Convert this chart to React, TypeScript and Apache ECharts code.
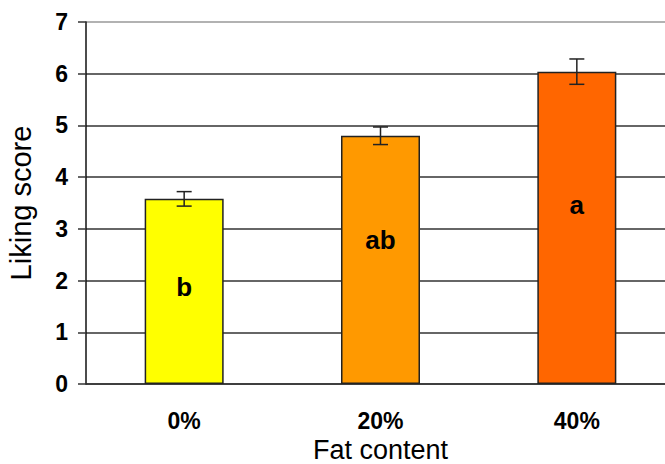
import React, { useEffect, useRef } from "react";
import * as echarts from "echarts";

const categories = ["0%", "20%", "40%"];
const means = [3.58, 4.8, 6.04];
const errors = [0.14, 0.17, 0.245];
const letters = ["b", "ab", "a"];
const letterLevels = [1.88, 2.79, 3.46];
const barColors = ["#FFFF00", "#FF9900", "#FF6600"];
const yTicks = [0, 1, 2, 3, 4, 5, 6, 7];

export default function App() {
  const ref = useRef<HTMLDivElement>(null);
  useEffect(() => {
    if (!ref.current) return;
    const chart = echarts.init(ref.current, null, { renderer: "svg" });
    const font = "'Liberation Sans', Arial, sans-serif";
    const errData = categories.map((_, i) => [i, means[i] - errors[i], means[i] + errors[i]]);
    const letterData = categories.map((_, i) => [i, letterLevels[i]]);
    chart.setOption({
      animation: false,
      grid: { left: 86, right: -10, top: 22, bottom: 80, outerBoundsMode: "none", containLabel: false },
      xAxis: {
        type: "category",
        data: categories,
        name: "Fat content",
        nameLocation: "middle",
        nameGap: 52,
        nameMoveOverlap: false,
        nameTextStyle: { fontFamily: font, fontSize: 27, color: "#000", lineHeight: 28 },
        axisLine: { lineStyle: { color: "#333", width: 1.5 } },
        axisTick: { show: false },
        axisLabel: { fontFamily: font, fontSize: 23, fontWeight: "bold", color: "#000", margin: 25 },
      },
      yAxis: {
        type: "value",
        min: yTicks[0],
        max: yTicks[yTicks.length - 1],
        interval: 1,
        name: "Liking score",
        nameLocation: "middle",
        nameGap: 51,
        nameMoveOverlap: false,
        nameTextStyle: { fontFamily: font, fontSize: 29, color: "#000" },
        axisLine: { show: true, lineStyle: { color: "#111", width: 1.5 } },
        axisTick: { show: true, length: 8, lineStyle: { color: "#333", width: 1.5 } },
        axisLabel: { fontFamily: font, fontSize: 23, fontWeight: "bold", color: "#000", margin: 18 },
        splitLine: {
          show: true,
          lineStyle: {
            color: ["#333", "#333", "#333", "#333", "#333", "#333", "#333", "#999"],
            width: 1.5,
          },
        },
      },
      series: [
        {
          type: "bar",
          barWidth: 79,
          data: means.map((v, i) => ({
            value: v,
            itemStyle: { color: barColors[i], borderColor: "#222", borderWidth: 1.5 },
          })),
          z: 2,
        },
        {
          type: "custom",
          data: letterData,
          z: 4,
          renderItem: (params: any, api: any) => {
            const p = api.coord([api.value(0), api.value(1)]);
            return {
              type: "text",
              x: p[0],
              y: p[1],
              style: {
                text: letters[params.dataIndex],
                fontFamily: font,
                fontSize: 26,
                fontWeight: "bold",
                fill: "#000",
                align: "center",
                verticalAlign: "middle",
              },
            };
          },
        },
        {
          type: "custom",
          data: errData,
          z: 5,
          renderItem: (params: any, api: any) => {
            const x = api.value(0);
            const lo = api.coord([x, api.value(1)]);
            const hi = api.coord([x, api.value(2)]);
            const hw = 7.5;
            const style = { stroke: "#222", lineWidth: 1.5 };
            return {
              type: "group",
              children: [
                { type: "line", shape: { x1: lo[0], y1: lo[1], x2: hi[0], y2: hi[1] }, style },
                { type: "line", shape: { x1: hi[0] - hw, y1: hi[1], x2: hi[0] + hw, y2: hi[1] }, style },
                { type: "line", shape: { x1: lo[0] - hw, y1: lo[1], x2: lo[0] + hw, y2: lo[1] }, style },
              ],
            };
          },
        },
      ],
    });
    return () => chart.dispose();
  }, []);
  return <div ref={ref} style={{ width: 665, height: 464, position: "absolute", left: 0, top: 0 }} />;
}
